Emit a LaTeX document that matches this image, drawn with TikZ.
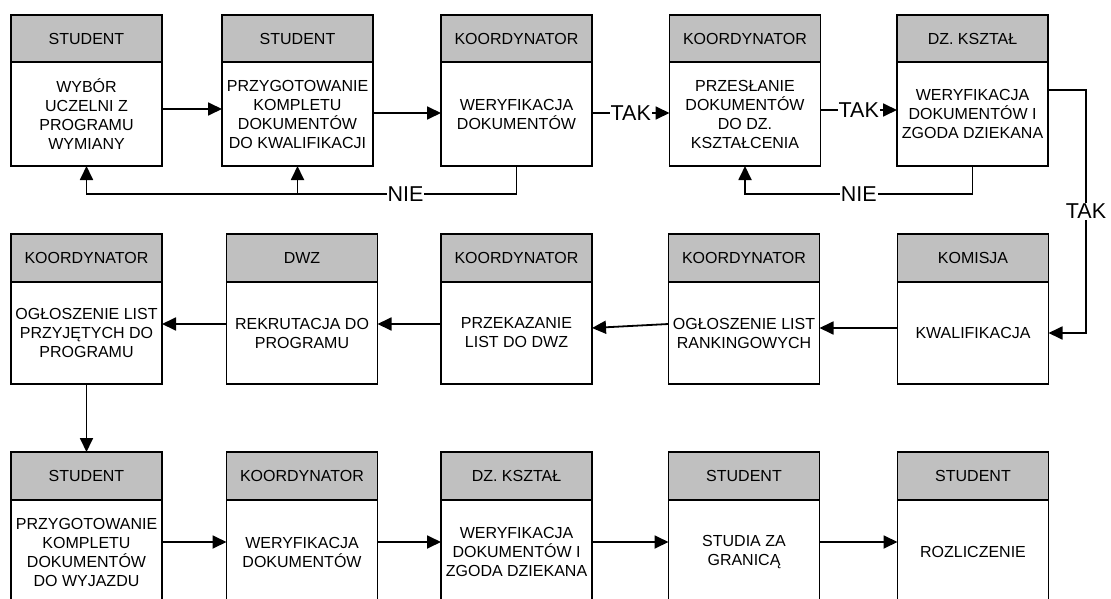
\documentclass[tikz,border=0pt]{standalone}
\usepackage{fontspec}
\setmainfont{Liberation Sans}
\usetikzlibrary{arrows.meta,calc}
\definecolor{headgray}{RGB}{192,192,192}
\tikzset{
  boxbase/.style={draw=black, line width=1.9pt, outer sep=0pt, inner sep=1.5pt,
    minimum width=151pt, align=center, anchor=north,
    font=\fontsize{16}{19}\selectfont},
  headbox/.style={boxbase, fill=headgray},
  bodybox/.style={boxbase, fill=white},
  arr/.style={-{Triangle[length=14pt,width=13pt]}, line width=1.8pt},
  lab/.style={fill=white, inner sep=1pt, font=\fontsize{21.5}{24}\selectfont},
}
% #1 name, #2 x, #3 top y, #4 header h, #5 body h, #6 header, #7 body
\newcommand{\pbox}[7]{%
  \node[headbox, minimum height=#4pt] (h#1) at (#2,#3) {#6};
  \node[bodybox, minimum height=#5pt] (b#1) at (h#1.south) {#7};
}
\begin{document}
\begin{tikzpicture}[x=1pt,y=-1pt]
\clip (0,0) rectangle (1111,599);
\fill[white] (0,0) rectangle (1111,599);
% Row 1
\pbox{11}{86.5}{15}{47}{104}{STUDENT}{WYBÓR\\UCZELNI Z\\PROGRAMU\\WYMIANY}
\pbox{12}{297.5}{15}{47}{104}{STUDENT}{PRZYGOTOWANIE\\KOMPLETU\\DOKUMENTÓW\\DO KWALIFIKACJI}
\pbox{13}{516.5}{15}{47}{104}{KOORDYNATOR}{WERYFIKACJA\\DOKUMENTÓW}
\pbox{14}{745}{15}{47}{104}{KOORDYNATOR}{PRZESŁANIE\\DOKUMENTÓW\\DO DZ.\\KSZTAŁCENIA}
\pbox{15}{972.5}{15}{47}{104}{DZ. KSZTAŁ}{WERYFIKACJA\\DOKUMENTÓW I\\ZGODA DZIEKANA}
% Row 2
\pbox{21}{86.5}{234}{48}{102}{KOORDYNATOR}{OGŁOSZENIE LIST\\PRZYJĘTYCH DO\\PROGRAMU}
\pbox{22}{302}{234}{48}{102}{DWZ}{REKRUTACJA DO\\PROGRAMU}
\pbox{23}{516.5}{234}{48}{102}{KOORDYNATOR}{PRZEKAZANIE\\LIST DO DWZ}
\pbox{24}{744}{234}{48}{102}{KOORDYNATOR}{OGŁOSZENIE LIST\\RANKINGOWYCH}
\pbox{25}{973}{234}{48}{102}{KOMISJA}{KWALIFIKACJA}
% Row 3
\pbox{31}{86.5}{452}{48}{104}{STUDENT}{PRZYGOTOWANIE\\KOMPLETU\\DOKUMENTÓW\\DO WYJAZDU}
\pbox{32}{302}{452}{48}{104}{KOORDYNATOR}{WERYFIKACJA\\DOKUMENTÓW}
\pbox{33}{516.5}{452}{48}{104}{DZ. KSZTAŁ}{WERYFIKACJA\\DOKUMENTÓW I\\ZGODA DZIEKANA}
\pbox{34}{744}{452}{48}{104}{STUDENT}{STUDIA ZA\\GRANICĄ}
\pbox{35}{973}{452}{48}{104}{STUDENT}{ROZLICZENIE}

% Row 1 connectors
\draw[arr] ([yshift=5pt]b11.east) -- ([yshift=5pt]b12.west);
\draw[arr] ([yshift=1pt]b12.east) -- ([yshift=1pt]b13.west);
\draw[arr] ([yshift=1pt]b13.east) -- node[lab]{TAK} ([yshift=1pt]b14.west);
\draw[arr] ([yshift=4pt]b14.east) -- node[lab]{TAK} ([yshift=4pt]b15.west);
% NIE loops
\draw[arr] (b13.south) -- ++(0,28) coordinate (n1)
  -- node[lab,pos=0.258]{NIE} (n1 -| b11.south) -- (b11.south);
\draw[arr] (n1 -| b12.south) -- (b12.south);
\draw[arr] (b15.south) -- ++(0,28) coordinate (n2)
  -- node[lab,pos=0.5]{NIE} (n2 -| b14.south) -- (b14.south);
% TAK down to row 2
\draw[arr] ([yshift=24pt]b15.east) -- ++(38,0) coordinate (t1)
  -- node[lab,midway]{TAK} (t1 |- b25.east) -- (b25.east);
% Row 2 connectors
\draw[arr] ([yshift=5pt]b25.west) -- ([yshift=5pt]b24.east);
\draw[arr] ([yshift=9pt]b24.west) -- ([yshift=5pt]b23.east);
\draw[arr] ([yshift=9pt]b23.west) -- ([yshift=9pt]b22.east);
\draw[arr] ([yshift=9pt]b22.west) -- ([yshift=9pt]b21.east);
\draw[arr] (b21.south) -- (h31.north);
% Row 3 connectors
\draw[arr] ([yshift=10pt]b31.east) -- ([yshift=10pt]b32.west);
\draw[arr] ([yshift=10pt]b32.east) -- ([yshift=10pt]b33.west);
\draw[arr] ([yshift=10pt]b33.east) -- ([yshift=10pt]b34.west);
\draw[arr] ([yshift=10pt]b34.east) -- ([yshift=10pt]b35.west);
\end{tikzpicture}
\end{document}
